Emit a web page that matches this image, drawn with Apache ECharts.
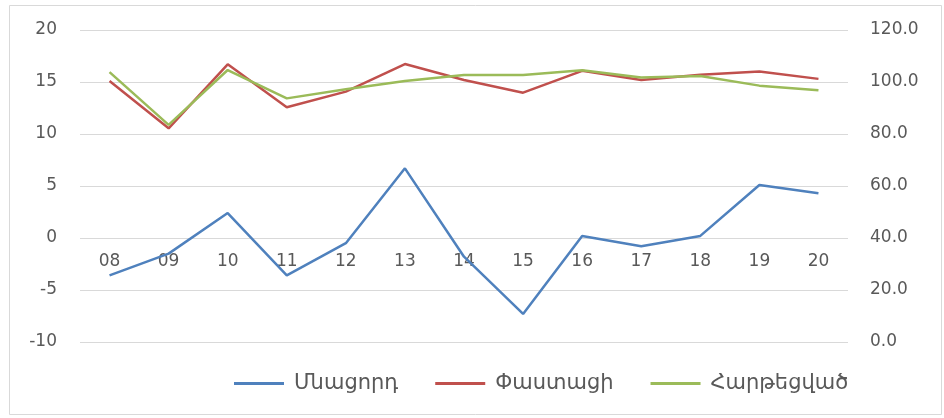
<!DOCTYPE html>
<html>
<head>
<meta charset="utf-8">
<script src="https://cdn.jsdelivr.net/npm/echarts@6/dist/echarts.min.js"></script>
<style>
  html, body { margin: 0; padding: 0; background: #fff; }
  #main { width: 944px; height: 418px; }
</style>
</head>
<body>
<div id="main"></div>
<script>
var years = ['08', '09', '10', '11', '12', '13', '14', '15', '16', '17', '18', '19', '20'];
// left axis
var mnacord = [-3.6, -1.5, 2.4, -3.6, -0.5, 6.7, -1.8, -7.3, 0.2, -0.8, 0.2, 5.1, 4.3];
// right axis
var pastaci = [100.4, 82.2, 106.8, 90.3, 96.3, 106.9, 100.8, 95.9, 104.3, 100.8, 102.8, 104.0, 101.2];
var harteccvac = [103.8, 83.5, 104.6, 93.7, 97.2, 100.4, 102.7, 102.7, 104.5, 101.7, 102.3, 98.6, 96.8];
var names = ['Մնացորդ', 'Փաստացի', 'Հարթեցված'];

var labelColor = '#595959';
var gridColor = '#d9d9d9';

var myChart = echarts.init(document.getElementById('main'));

option = {
    animation: false,
    backgroundColor: '#fff',
    textStyle: { fontFamily: 'DejaVu Sans' },
    graphic: [{
        type: 'rect',
        shape: { x: 9.5, y: 5.5, width: 932, height: 409 },
        style: { fill: 'none', stroke: gridColor, lineWidth: 1 },
        silent: true
    }],
    grid: { left: 80, right: 96, top: 30, bottom: 76 },
    legend: {
        top: 368,
        left: 229,
        itemWidth: 50,
        itemHeight: 3,
        itemGap: 37,
        icon: 'rect',
        textStyle: { fontSize: 21, color: labelColor, fontFamily: 'DejaVu Sans', padding: [0, 0, 0, 5] },
        data: names
    },
    xAxis: {
        type: 'category',
        data: years,
        boundaryGap: true,
        offset: -104,
        axisLine: { show: false },
        axisTick: { show: false },
        axisLabel: { color: labelColor, fontSize: 17, margin: 15 }
    },
    yAxis: [{
        type: 'value',
        min: -10,
        max: 20,
        interval: 5,
        axisLine: { show: false },
        axisTick: { show: false },
        axisLabel: { color: labelColor, fontSize: 17, margin: 23 },
        splitLine: { lineStyle: { color: gridColor } }
    }, {
        type: 'value',
        min: 0,
        max: 120,
        interval: 20,
        axisLine: { show: false },
        axisTick: { show: false },
        axisLabel: {
            color: labelColor, fontSize: 17, margin: 22,
            formatter: function (v) { return v.toFixed(1); }
        },
        splitLine: { show: false }
    }],
    series: [{
        name: names[0],
        type: 'line',
        yAxisIndex: 0,
        data: mnacord,
        symbol: 'none',
        lineStyle: { width: 2.5, color: '#4F81BD' },
        itemStyle: { color: '#4F81BD' }
    }, {
        name: names[1],
        type: 'line',
        yAxisIndex: 1,
        data: pastaci,
        symbol: 'none',
        lineStyle: { width: 2.5, color: '#C0504D' },
        itemStyle: { color: '#C0504D' }
    }, {
        name: names[2],
        type: 'line',
        yAxisIndex: 1,
        data: harteccvac,
        symbol: 'none',
        lineStyle: { width: 2.5, color: '#9BBB59' },
        itemStyle: { color: '#9BBB59' }
    }]
};
myChart.setOption(option);
</script>
</body>
</html>
